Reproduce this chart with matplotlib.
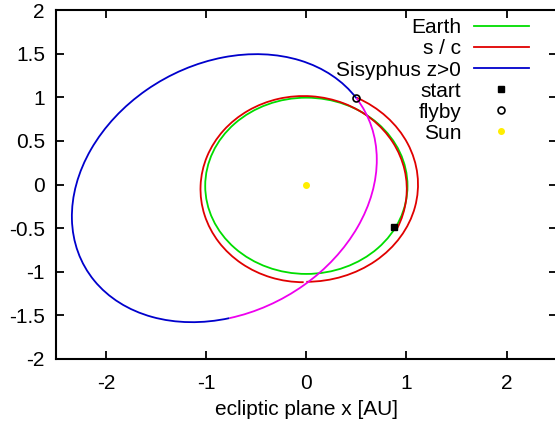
import numpy as np
import matplotlib
matplotlib.use("Agg")
import matplotlib.pyplot as plt
from matplotlib.patches import Ellipse, Arc
from matplotlib.lines import Line2D

plt.rcParams['font.family'] = ['Liberation Sans', 'DejaVu Sans']
plt.rcParams['font.size'] = 15
plt.rcParams['axes.unicode_minus'] = False

# orbits, in AU: centre x, centre y, width, height, tilt (deg)
earth_orbit = [0.0, -0.015, 2.02, 2.02, 0.0]
sc_first_loop = [-0.027, -0.053, 2.06, 2.134, 0.0]
sc_second_loop = [0.0, 0.0, 2.23, 2.23, 0.0]
sisyphus_orbit = [-0.819, -0.042, 3.366, 2.716, 46.2]

# single points (AU)
start_pt = [0.876, -0.49]
flyby_pt = [0.50, 0.988]
sun_pt = [0.0, 0.0]
node_pt = [-0.767, -1.535]   # Sisyphus drops below the ecliptic here
sc_switch = 270.0            # angle where the s/c moves onto its wider loop

legend_labels = ["Earth", "s / c", "Sisyphus z>0", "start", "flyby", "Sun"]
xticks = [-2, -1, 0, 1, 2]
yticks = [-2, -1.5, -1, -0.5, 0, 0.5, 1, 1.5, 2]

c_earth = '#00dd00'
c_sc = '#e00000'
c_sis = '#0000cc'
c_sis_low = '#ee00ee'
c_sun = '#ffee00'


def polar_angle(orbit, pt):
    # angle of a point seen from the orbit centre, in the orbit's own frame
    cx, cy, w, h, tilt = orbit
    t = np.deg2rad(tilt)
    dx, dy = pt[0] - cx, pt[1] - cy
    u = dx * np.cos(t) + dy * np.sin(t)
    v = -dx * np.sin(t) + dy * np.cos(t)
    return np.degrees(np.arctan2(v, u))


def arc(orbit, a1, a2, color):
    cx, cy, w, h, tilt = orbit
    return Arc((cx, cy), w, h, angle=tilt, theta1=a1, theta2=a2,
               color=color, lw=1.3)


fig = plt.figure(figsize=(5.55, 4.29), dpi=100)
ax = fig.add_axes([56 / 555, 1 - 359 / 429, 500.7 / 555, 349 / 429])

cx, cy, w, h, tilt = earth_orbit
ax.add_patch(Ellipse((cx, cy), w, h, angle=tilt, fill=False, ec=c_earth, lw=1.3))

ax.add_patch(arc(sc_first_loop, polar_angle(sc_first_loop, start_pt), sc_switch, c_sc))
ax.add_patch(arc(sc_second_loop, sc_switch, polar_angle(sc_second_loop, flyby_pt), c_sc))

a_fly = polar_angle(sisyphus_orbit, flyby_pt)
a_node = polar_angle(sisyphus_orbit, node_pt)
ax.add_patch(arc(sisyphus_orbit, a_fly, a_node, c_sis))
ax.add_patch(arc(sisyphus_orbit, a_node, a_fly, c_sis_low))

ax.plot(start_pt[0], start_pt[1], 's', color='black', ms=5)
ax.plot(flyby_pt[0], flyby_pt[1], 'o', mfc='none', mec='black', ms=5, mew=1.2)
ax.plot(sun_pt[0], sun_pt[1], 'o', color=c_sun, ms=4)

handles = [
    Line2D([], [], color=c_earth, lw=1.3),
    Line2D([], [], color=c_sc, lw=1.3),
    Line2D([], [], color=c_sis, lw=1.3),
    Line2D([], [], ls='none', marker='s', color='black', ms=5),
    Line2D([], [], ls='none', marker='o', mfc='none', mec='black', ms=5, mew=1.2),
    Line2D([], [], ls='none', marker='o', color=c_sun, ms=4),
]
ax.legend(handles, legend_labels, loc='upper right', bbox_to_anchor=(0.961, 1.0),
          frameon=False, markerfirst=False, handlelength=2.65, handletextpad=0.6,
          labelspacing=0.1, borderaxespad=0.25, borderpad=0.15)

ax.set_xlim(-2.5, 2.5)
ax.set_ylim(-2, 2)
ax.set_xticks(xticks)
ax.set_yticks(yticks)
ax.set_yticklabels([f"{v:g}" for v in yticks])
ax.tick_params(direction='in', length=6, width=1.3, top=True, right=True, pad=8)
ax.tick_params(axis='x', pad=11)
for s in ax.spines.values():
    s.set_linewidth(1.5)
ax.set_xlabel("ecliptic plane x [AU]", labelpad=5)

fig.savefig("out.png", dpi=100)
